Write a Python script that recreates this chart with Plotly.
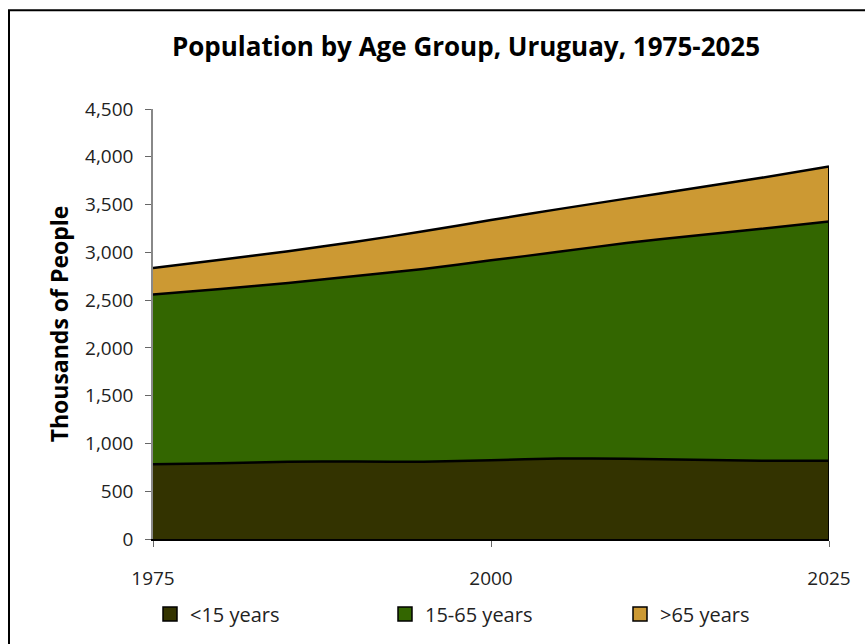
import plotly.graph_objects as go

years = [1975, 1980, 1985, 1990, 1995, 2000, 2005, 2010, 2015, 2020, 2025]
under15 = [783, 793, 809, 811, 809, 825, 843, 840, 830, 820, 818]
age15_65 = [1775, 1824, 1871, 1941, 2016, 2091, 2162, 2258, 2344, 2427, 2505]
over65 = [279, 306, 332, 358, 395, 422, 447, 464, 496, 533, 575]

series_names = ["<15 years", "15-65 years", ">65 years"]
series_values = [under15, age15_65, over65]
colors = ["#333300", "#336600", "#CC9933"]

xticks = [1975, 2000, 2025]

FONT = "Open Sans"

fig = go.Figure()
for name, vals, col in zip(series_names, series_values, colors):
    fig.add_trace(go.Scatter(
        x=years, y=vals, name=name, mode="lines",
        stackgroup="pop", line=dict(color="black", width=2.5, shape="spline", smoothing=0.6),
        fillcolor=col, showlegend=False, hoverinfo="x+y+name",
    ))

# right edge outline of stacked area
total_last = under15[-1] + age15_65[-1] + over65[-1]
fig.add_trace(go.Scatter(x=[years[-1], years[-1]], y=[0, total_last], mode="lines",
                         line=dict(color="black", width=2), showlegend=False, hoverinfo="skip"))

# legend entries
for name, col in zip(series_names, colors):
    fig.add_trace(go.Scatter(x=[None], y=[None], mode="markers", name=name,
                             marker=dict(symbol="square", size=14, color=col,
                                         line=dict(color="black", width=1.5))))

L, R, T, B = 153, 36, 109, 104
W, H = 865, 644
pw = W - L - R
ph = H - T - B

def px_x(px):
    return (px - L) / pw

def px_y(py):
    return (H - B - py) / ph

fig.update_layout(
    width=W, height=H,
    margin=dict(l=L, r=R, t=T, b=B, pad=0),
    paper_bgcolor="white", plot_bgcolor="white",
    font=dict(family=FONT, size=19, color="#222222"),
    title=dict(text="<b>Population by Age Group, Uruguay, 1975-2025</b>",
               font=dict(family=FONT, size=26, color="black"),
               x=px_x(466), xref="paper", xanchor="center",
               y=1 - 47 / H, yref="container", yanchor="middle"),
    showlegend=True,
    legend=dict(orientation="h", x=px_x(150), xanchor="left", y=px_y(614), yanchor="middle",
                traceorder="normal",
                font=dict(family=FONT, size=20, color="#222222"),
                entrywidth=190, entrywidthmode="pixels", itemwidth=30,
                bgcolor="rgba(0,0,0,0)"),
    xaxis=dict(range=[1975, 2025], tickvals=xticks, ticktext=[str(t) for t in xticks],
               showgrid=False, zeroline=False, showline=True, linecolor="black", linewidth=2,
               ticks="outside", ticklen=6, tickcolor="#666666", tickwidth=1,
               ticklabelstandoff=15, tickfont=dict(size=19, color="#222222")),
    yaxis=dict(range=[0, 4500], dtick=500, tickformat=",", showgrid=False, zeroline=False,
               showline=True, linecolor="#888888", linewidth=1.5,
               ticks="outside", ticklen=6, tickcolor="#666666", tickwidth=1,
               ticklabelstandoff=8, tickfont=dict(size=19, color="#222222"),
               title=dict(text="<b>Thousands of People</b>", standoff=10,
                          font=dict(family=FONT, size=23, color="black"))),
)

# outer chart border
fig.add_shape(type="rect", xref="paper", yref="paper",
              x0=px_x(9), x1=px_x(W + 20), y0=px_y(H + 20), y1=px_y(10),
              line=dict(color="black", width=2), fillcolor="rgba(0,0,0,0)", layer="below")

fig.write_html("out.html", config={"displayModeBar": False},
               post_script="document.body.style.margin='0px';document.body.style.overflow='hidden';")
